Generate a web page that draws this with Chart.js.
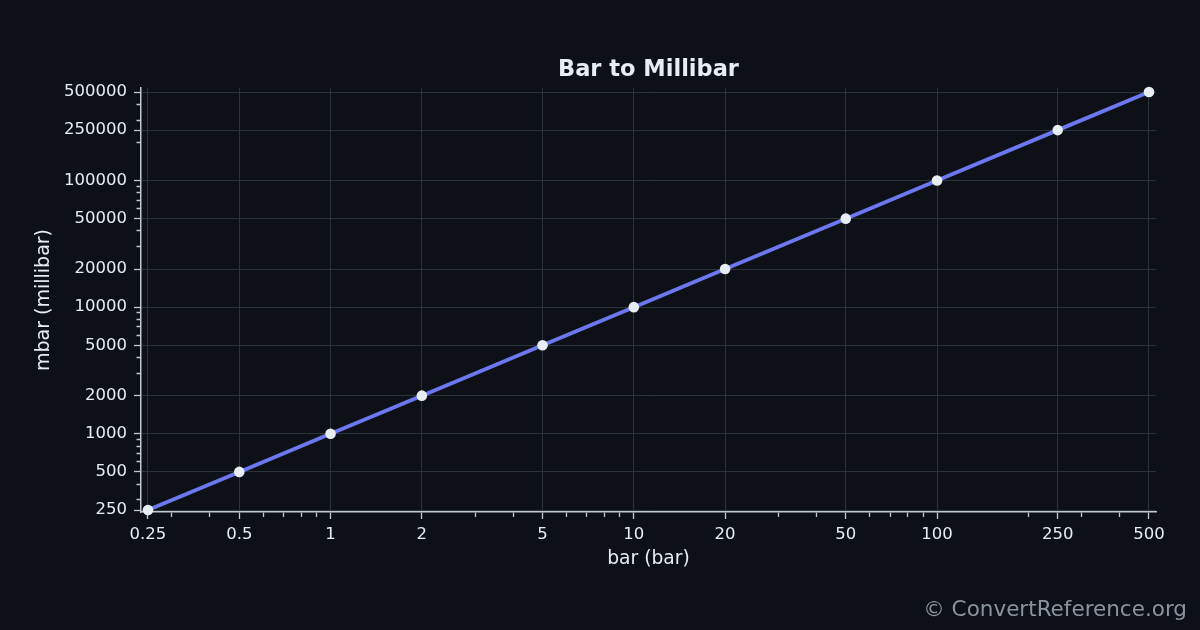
<!DOCTYPE html>
<html>
<head>
<meta charset="utf-8">
<title>Bar to Millibar</title>
<script src="https://cdn.jsdelivr.net/npm/chart.js@4.4.1/dist/chart.umd.min.js"></script>
<style>
  html, body { margin: 0; padding: 0; background: #0d1117; }
  #chart { display: block; }
</style>
</head>
<body>
<canvas id="chart" width="1200" height="630"></canvas>
<script>
// Bar -> mbar conversion points
const barValues = [0.25, 0.5, 1, 2, 5, 10, 20, 50, 100, 250, 500];
const mbarValues = [250, 500, 1000, 2000, 5000, 10000, 20000, 50000, 100000, 250000, 500000];

// labelled ticks
const xMajorTicks = [0.25, 0.5, 1, 2, 5, 10, 20, 50, 100, 250, 500];
const yMajorTicks = [250, 500, 1000, 2000, 5000, 10000, 20000, 50000, 100000, 250000, 500000];

// unlabelled minor ticks (log 2..9 steps)
const xMinorTicks = [0.3, 0.4, 0.6, 0.7, 0.8, 0.9, 3, 4, 6, 7, 8, 9, 30, 40, 60, 70, 80, 90, 200, 300, 400];
const yMinorTicks = [300, 400, 600, 700, 800, 900, 3000, 4000, 6000, 7000, 8000, 9000,
  30000, 40000, 60000, 70000, 80000, 90000, 200000, 300000, 400000];

const BG = '#0d1117';
const TEXT = '#e6edf3';
const GRID = '#2b333b';
const AXIS = '#c2c8cf';
const FONT = "'DejaVu Sans', sans-serif";

function buildTicks(major, minor) {
  const all = major.map(v => ({ value: v, minor: false }))
    .concat(minor.map(v => ({ value: v, minor: true })));
  return all.sort((a, b) => a.value - b.value);
}

// background + watermark
const backdrop = {
  id: 'backdrop',
  beforeDraw(chart) {
    const ctx = chart.ctx;
    ctx.save();
    ctx.fillStyle = BG;
    ctx.fillRect(0, 0, chart.width, chart.height);
    ctx.restore();
  },
  afterDraw(chart) {
    const ctx = chart.ctx;
    ctx.save();
    ctx.font = "21.5px " + FONT;
    ctx.fillStyle = '#8b949e';
    ctx.textAlign = 'right';
    ctx.textBaseline = 'alphabetic';
    ctx.fillText('\u00A9 ConvertReference.org', 1187, 616);
    ctx.restore();
  }
};

new Chart(document.getElementById('chart'), {
  type: 'line',
  data: {
    datasets: [{
      label: 'mbar',
      data: barValues.map((x, i) => ({ x: x, y: mbarValues[i] })),
      borderColor: '#6b78f0',
      borderWidth: 3.8,
      pointRadius: 5.3,
      pointBackgroundColor: TEXT,
      pointBorderColor: TEXT,
      pointBorderWidth: 0,
      tension: 0,
      clip: false,
    }],
  },
  options: {
    responsive: false,
    animation: false,
    devicePixelRatio: 1,
    layout: { padding: { left: 0, right: 44, top: 0, bottom: 0 } },
    plugins: {
      legend: { display: false },
      tooltip: { enabled: false },
      title: {
        display: true,
        text: 'Bar to Millibar',
        color: TEXT,
        fullSize: false,
        font: { family: FONT, size: 22.5, weight: 'bold', lineHeight: 1.2 },
        padding: { top: 57, bottom: 4 },
      },
    },
    scales: {
      x: {
        type: 'logarithmic',
        min: 0.23708,
        max: 527.3,
        afterBuildTicks(scale) { scale.ticks = buildTicks(xMajorTicks, xMinorTicks); },
        afterFit(scale) { scale.height = 118; },
        border: { display: true, color: AXIS, width: 1.5 },
        grid: {
          color: ctx => (ctx.tick && ctx.tick.minor ? 'rgba(0,0,0,0)' : GRID),
          lineWidth: 1,
          drawTicks: true,
          tickLength: 7,
          tickColor: AXIS,
          tickWidth: 1.3,
          tickBorderDash: ctx => (ctx.tick && ctx.tick.minor ? [4.5, 100] : []),
        },
        ticks: {
          autoSkip: false,
          maxRotation: 0,
          minRotation: 0,
          padding: 6,
          color: TEXT,
          font: { family: FONT, size: 16.5 },
          callback: v => (xMajorTicks.includes(v) ? String(v) : ''),
        },
        title: {
          display: true,
          text: 'bar (bar)',
          color: TEXT,
          font: { family: FONT, size: 18.7, lineHeight: 1.2 },
          padding: { top: 0, bottom: 60 },
        },
      },
      y: {
        type: 'logarithmic',
        min: 241.1,
        max: 537770,
        afterBuildTicks(scale) { scale.ticks = buildTicks(yMajorTicks, yMinorTicks); },
        afterFit(scale) { scale.width = 141; },
        border: { display: true, color: AXIS, width: 1.5 },
        grid: {
          color: ctx => (ctx.tick && ctx.tick.minor ? 'rgba(0,0,0,0)' : GRID),
          lineWidth: 1,
          drawTicks: true,
          tickLength: 7,
          tickColor: AXIS,
          tickWidth: 1.3,
          tickBorderDash: ctx => (ctx.tick && ctx.tick.minor ? [0, 2.5, 4.5, 100] : []),
        },
        ticks: {
          autoSkip: false,
          padding: 7,
          color: TEXT,
          font: { family: FONT, size: 16.5 },
          callback: v => (yMajorTicks.includes(v) ? String(v) : ''),
        },
        title: {
          display: true,
          text: 'mbar (millibar)',
          color: TEXT,
          font: { family: FONT, size: 19, lineHeight: 1.2 },
          padding: { top: 33, bottom: 0 },
        },
      },
    },
  },
  plugins: [backdrop],
});
</script>
</body>
</html>
